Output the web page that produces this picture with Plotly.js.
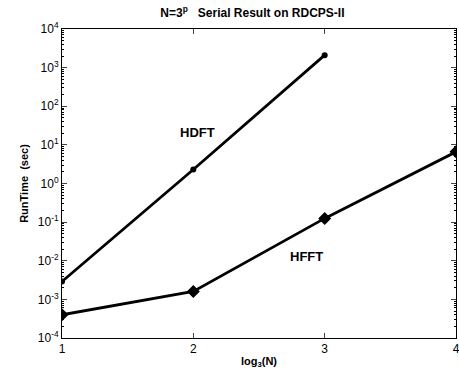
<!DOCTYPE html>
<html><head><meta charset="utf-8">
<script src="https://cdn.plot.ly/plotly-3.0.1.min.js"></script>
<style>html,body{margin:0;padding:0;background:#fff}#chart{width:459px;height:369px}</style>
</head><body><div id="chart"></div>
<script>
const p = [1, 2, 3, 4];
const hdftX = [1, 2, 3];
const hdftTime = [0.0029, 2.3, 2100];
const hfftX = [1, 2, 3, 4];
const hfftTime = [0.0004, 0.0016, 0.125, 6.6];
const seriesNames = ['HDFT', 'HFFT'];
const yExponents = [-4, -3, -2, -1, 0, 1, 2, 3, 4];

const font = "'Liberation Sans', Arial, sans-serif";
const traces = [
  {x: hdftX, y: hdftTime, name: seriesNames[0], mode: 'lines+markers',
   line: {color: '#000', width: 2.8}, marker: {symbol: 'circle', size: 6, color: '#000'}},
  {x: hfftX, y: hfftTime, name: seriesNames[1], mode: 'lines+markers',
   line: {color: '#000', width: 2.8}, marker: {symbol: 'diamond', size: 10, color: '#000'}}
];
const layout = {
  width: 459, height: 369,
  margin: {l: 62, r: 3, t: 29, b: 31},
  paper_bgcolor: '#fff', plot_bgcolor: '#fff',
  showlegend: false,
  font: {family: font, color: '#000', size: 11},
  title: {text: '<b>N=3<sup>p</sup>   Serial Result on RDCPS-II</b>', font: {family: font, size: 12, color: '#000'},
          x: 0.55, xanchor: 'center', y: 0.965, yanchor: 'middle'},
  xaxis: {range: [1, 4], tickvals: p, ticktext: p.map(String), ticks: 'inside', ticklen: 5,
          ticklabeloverflow: 'allow',
          showline: true, linecolor: '#000', linewidth: 1, mirror: 'ticks', showgrid: false, zeroline: false,
          tickfont: {family: font, size: 12, color: '#000'},
          title: {text: '<b>log<sub>3</sub>(N)</b>', font: {family: font, size: 11, color: '#000'}, standoff: 1}},
  yaxis: {type: 'log', range: [-4, 4], tickvals: yExponents.map(e => Math.pow(10, e)),
          ticktext: yExponents.map(e => '10<sup>' + (e < 0 ? '-' + (-e) : e) + '</sup>'),
          ticks: 'inside', ticklen: 5,
          showline: true, linecolor: '#000', linewidth: 1, mirror: 'ticks', showgrid: false, zeroline: false,
          minor: {ticks: 'inside', ticklen: 2, dtick: 'D1', tickcolor: '#000', showgrid: false},
          tickfont: {family: font, size: 12, color: '#000'},
          title: {text: '<b>RunTime  (sec)</b>', font: {family: font, size: 11, color: '#000'}, standoff: 6}},
  annotations: [
    {x: 2.03, y: 1.33, xref: 'x', yref: 'y', text: '<b>HDFT</b>', showarrow: false, font: {family: font, size: 13, color: '#000'}},
    {x: 2.86, y: -1.9, xref: 'x', yref: 'y', text: '<b>HFFT</b>', showarrow: false, font: {family: font, size: 13, color: '#000'}}
  ]
};
Plotly.newPlot('chart', traces, layout, {displayModeBar: false, staticPlot: true});
</script></body></html>
